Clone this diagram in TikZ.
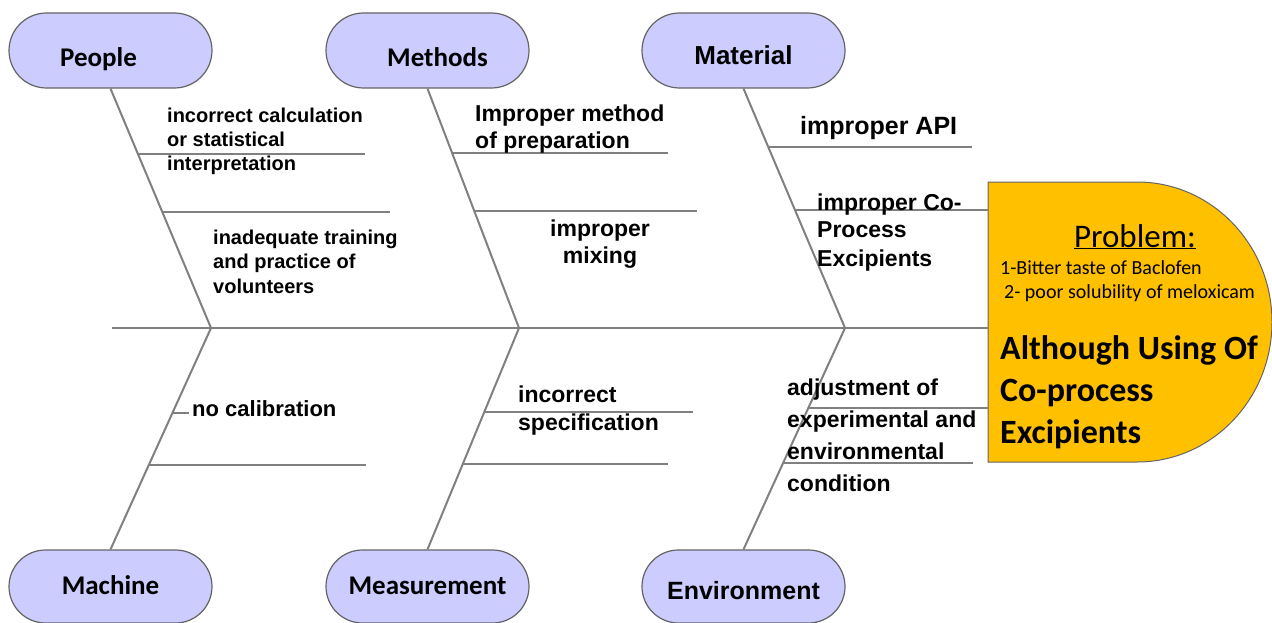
\documentclass[tikz,border=0pt]{standalone}
\usepackage{fontspec}
\setmainfont{Liberation Sans}
\newfontfamily\calibri{Carlito}
\usepackage{tikz}
\usetikzlibrary{shapes.misc}

\definecolor{lavender}{RGB}{204,204,255}
\definecolor{bonegray}{RGB}{128,128,128}
\definecolor{edgegray}{RGB}{100,100,100}
\definecolor{probyellow}{RGB}{255,192,0}

% stacked lines, baseline on the first line
\newcommand{\causetext}[1]{\vtop{\let\\\cr\halign{##\hfil\cr#1\cr}}}
\newcommand{\causecenter}[1]{\vtop{\let\\\cr\halign{\hfil##\hfil\cr#1\cr}}}

\tikzset{
    category/.style={draw=edgegray, fill=lavender, rounded rectangle, line width=1.2pt,
        minimum width=203pt, minimum height=75pt, inner sep=0pt,
        font=\calibri\bfseries\fontsize{27}{30}\selectfont},
    bone/.style={draw=bonegray, line width=2pt},
    cause/.style={anchor=base west, inner sep=0pt,
        font=\bfseries\fontsize{23}{28}\selectfont},
}

\begin{document}
\begin{tikzpicture}[x=1pt, y=-1pt]
\useasboundingbox (0,0) rectangle (1272,623);

% Category boxes on top
\node[category, text height=33pt, text depth=0pt] (people) at (110.5,50.5) {\hspace*{-24pt}People};
\node[category, text height=33pt, text depth=0pt] (methods) at (427.5,50.5) {\hspace*{20pt}Methods};
\node[category, text height=28pt, text depth=0pt, font=\bfseries\fontsize{26}{30}\selectfont] (material) at (743.5,50.5) {Material};

% Category boxes at the bottom
\node[category, minimum height=73pt, text height=16pt, text depth=0pt] (machine) at (110.5,586.5) {Machine};
\node[category, minimum height=73pt, text height=16pt, text depth=0pt] (measurement) at (427.5,586.5) {Measurement};
\node[category, minimum height=73pt, text height=26pt, text depth=0pt, font=\bfseries\fontsize{25}{30}\selectfont] (environment) at (743.5,586.5) {Environment};

% Problem head
\draw[draw=edgegray, fill=probyellow, line width=1pt] (988,182) -- (1137,182)
    arc[start angle=-90, end angle=90, x radius=135, y radius=140] -- (988,462) -- cycle;
\coordinate (head) at (988,328);
\node[anchor=base, inner sep=0pt, font=\calibri\fontsize{33}{36}\selectfont] (problem) at (1135,247) {\underline{Problem:}};
\node[anchor=base west, inner sep=0pt, font=\calibri\fontsize{20}{24}\selectfont] (issue1) at (1000,274) {1-Bitter taste of Baclofen};
\node[anchor=base west, inner sep=0pt, font=\calibri\fontsize{20}{24}\selectfont] (issue2) at (1004,298) {2- poor solubility of meloxicam};
\node[anchor=base west, inner sep=0pt, font=\calibri\bfseries\fontsize{34}{42}\selectfont] (effect) at (1000,359) {\causetext{Although Using Of\\Co-process\\Excipients}};

% Spine and joints
\coordinate (tail) at (112,328);
\coordinate (jpeople) at (211,328);
\coordinate (jmethods) at (519,328);
\coordinate (jmaterial) at (845,328);
\draw[bone] (tail) -- (head);

% Upper bones with their ribs
\draw[bone] (people.south) -- coordinate[pos=0.275] (pe1) coordinate[pos=0.517] (pe2) (jpeople);
\draw[bone] (pe1) -- ++(227,0);
\draw[bone] (pe2) -- ++(228,0);
\draw[bone] (methods.south) -- coordinate[pos=0.267] (me1) coordinate[pos=0.5125] (me2) (jmethods);
\draw[bone] (me1) -- ++(216,0);
\draw[bone] (me2) -- ++(223,0);
\draw[bone] (material.south) -- coordinate[pos=0.246] (ma1) coordinate[pos=0.508] (ma2) (jmaterial);
\draw[bone] (ma1) -- ++(204,0);
\draw[bone] (ma2) -- ++(193,0);

% Lower bones with their ribs
\draw[bone] (jpeople) -- coordinate[pos=0.383] (mc1) coordinate[pos=0.617] (mc2) (machine.north);
\draw[bone] (mc1) -- ++(16,0);
\draw[bone] (mc2) -- ++(217,0);
\draw[bone] (jmethods) -- coordinate[pos=0.378] (ms1) coordinate[pos=0.613] (ms2) (measurement.north);
\draw[bone] (ms1) -- ++(209,0);
\draw[bone] (ms2) -- ++(205,0);
\draw[bone] (jmaterial) -- coordinate[pos=0.36] (en1) coordinate[pos=0.608] (en2) (environment.north);
\draw[bone] (en1) -- ++(180,0);
\draw[bone] (en2) -- ++(190,0);

% Causes
\node[cause, font=\bfseries\fontsize{20}{24}\selectfont] (calc) at (167,123) {\causetext{incorrect calculation\\or statistical\\interpretation}};
\node[cause, font=\bfseries\fontsize{20}{24.5}\selectfont] (training) at (213,244) {\causetext{inadequate training\\and practice of\\volunteers}};
\node[cause, font=\bfseries\fontsize{23}{27}\selectfont] (prep) at (475,122) {\causetext{Improper method\\of preparation}};
\node[cause, anchor=base, font=\bfseries\fontsize{23}{28}\selectfont] (mixing) at (600,236) {\causecenter{improper\\mixing}};
\node[cause, font=\bfseries\fontsize{25}{28}\selectfont] (api) at (800,135) {improper API};
\node[cause] (coproc) at (817,210) {\causetext{improper Co-\\Process\\Excipients}};
\node[cause, font=\bfseries\fontsize{22}{26}\selectfont] (calib) at (192,416) {no calibration};
\node[cause] (spec) at (518,402) {\causetext{incorrect\\specification}};
\node[cause, font=\bfseries\fontsize{23}{32}\selectfont] (adjust) at (787,395) {\causetext{adjustment of\\experimental and\\environmental\\condition}};

\end{tikzpicture}
\end{document}
